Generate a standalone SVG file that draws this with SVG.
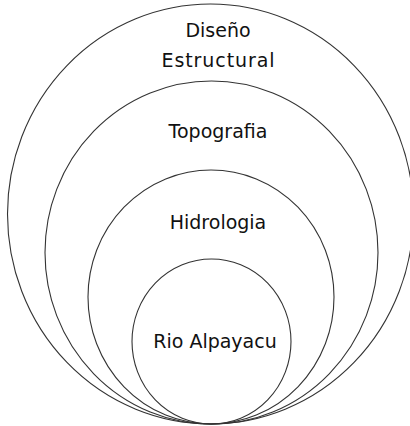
<svg xmlns="http://www.w3.org/2000/svg" width="410" height="426" viewBox="0 0 410 426">
<style>
.ring{fill:none;stroke:#333333;stroke-width:1.1}
.lbl{font-family:"DejaVu Sans","Liberation Sans",sans-serif;font-size:19px;fill:#111111;text-anchor:middle}
</style>
<rect x="0" y="0" width="410" height="426" fill="#ffffff"/>
<g id="diseno-estructural">
<ellipse class="ring" cx="210.5" cy="214" rx="203" ry="210"/>
<text class="lbl" x="218" y="37">Diseño</text>
<text class="lbl" x="218" y="67" textLength="113" lengthAdjust="spacing">Estructural</text>
</g>
<g id="topografia">
<ellipse class="ring" cx="211.5" cy="252.5" rx="166.5" ry="171.5"/>
<text class="lbl" x="218" y="138">Topografia</text>
</g>
<g id="hidrologia">
<ellipse class="ring" cx="211" cy="297" rx="123" ry="127"/>
<text class="lbl" x="218" y="229">Hidrologia</text>
</g>
<g id="rio-alpayacu">
<ellipse class="ring" cx="211.5" cy="341.5" rx="79.5" ry="82.5"/>
<text class="lbl" x="215" y="348">Rio Alpayacu</text>
</g>
<g id="connectors"></g>
</svg>
